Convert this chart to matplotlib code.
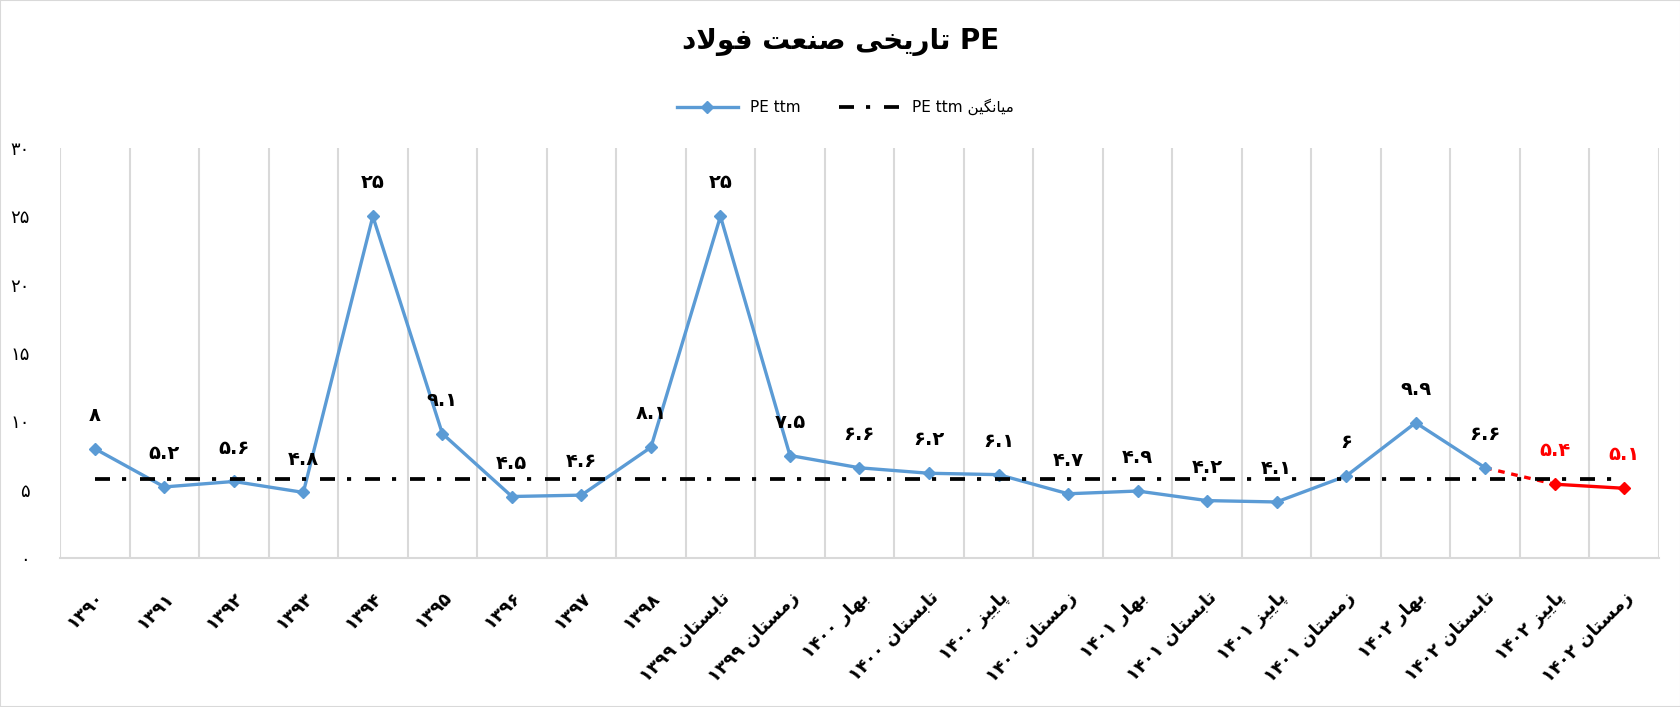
import re
import matplotlib
matplotlib.use("Agg")
import matplotlib.pyplot as plt
from matplotlib.lines import Line2D
from matplotlib.patches import Rectangle

# ---- data -------------------------------------------------------------
categories = [
    "۱۳۹۰", "۱۳۹۱", "۱۳۹۲", "۱۳۹۳", "۱۳۹۴", "۱۳۹۵", "۱۳۹۶", "۱۳۹۷", "۱۳۹۸",
    "تابستان ۱۳۹۹", "زمستان ۱۳۹۹", "بهار ۱۴۰۰", "تابستان ۱۴۰۰", "پاییز ۱۴۰۰",
    "زمستان ۱۴۰۰", "بهار ۱۴۰۱", "تابستان ۱۴۰۱", "پاییز ۱۴۰۱", "زمستان ۱۴۰۱",
    "بهار ۱۴۰۲", "تابستان ۱۴۰۲", "پاییز ۱۴۰۲", "زمستان ۱۴۰۲",
]
pe_ttm = [8, 5.2, 5.6, 4.8, 25, 9.1, 4.5, 4.6, 8.1, 25, 7.5, 6.6, 6.2, 6.1,
          4.7, 4.9, 4.2, 4.1, 6, 9.9, 6.6, 5.4, 5.1]
pe_avg = [5.8] * len(categories)
forecast_from = 21          # first estimated (red) point
y_ticks = [0, 5, 10, 15, 20, 25, 30]

title = "PE تاریخی صنعت فولاد"
legend_pe = "PE ttm"
legend_avg = "میانگین PE ttm"

# ---- minimal persian shaping / visual ordering -------------------------
FORMS = {  # isolated, final, initial, medial
    "ا": ("\uFE8D", "\uFE8E", None, None),
    "ب": ("\uFE8F", "\uFE90", "\uFE91", "\uFE92"),
    "پ": ("\uFB56", "\uFB57", "\uFB58", "\uFB59"),
    "ت": ("\uFE95", "\uFE96", "\uFE97", "\uFE98"),
    "خ": ("\uFEA5", "\uFEA6", "\uFEA7", "\uFEA8"),
    "د": ("\uFEA9", "\uFEAA", None, None),
    "ر": ("\uFEAD", "\uFEAE", None, None),
    "ز": ("\uFEAF", "\uFEB0", None, None),
    "س": ("\uFEB1", "\uFEB2", "\uFEB3", "\uFEB4"),
    "ص": ("\uFEB9", "\uFEBA", "\uFEBB", "\uFEBC"),
    "ع": ("\uFEC9", "\uFECA", "\uFECB", "\uFECC"),
    "ف": ("\uFED1", "\uFED2", "\uFED3", "\uFED4"),
    "گ": ("\uFB92", "\uFB93", "\uFB94", "\uFB95"),
    "ل": ("\uFEDD", "\uFEDE", "\uFEDF", "\uFEE0"),
    "م": ("\uFEE1", "\uFEE2", "\uFEE3", "\uFEE4"),
    "ن": ("\uFEE5", "\uFEE6", "\uFEE7", "\uFEE8"),
    "ه": ("\uFEE9", "\uFEEA", "\uFEEB", "\uFEEC"),
    "و": ("\uFEED", "\uFEEE", None, None),
    "ی": ("\uFBFC", "\uFBFD", "\uFBFE", "\uFBFF"),
}


def dual(c):
    return c in FORMS and FORMS[c][2] is not None


def shape(s):
    out = []
    i = 0
    while i < len(s):
        c = s[i]
        if c not in FORMS:
            out.append(c)
            i += 1
            continue
        join_prev = i > 0 and dual(s[i - 1])
        if c == "ل" and i + 1 < len(s) and s[i + 1] == "ا":
            out.append("\uFEFC" if join_prev else "\uFEFB")
            i += 2
            continue
        join_next = dual(c) and i + 1 < len(s) and s[i + 1] in FORMS
        iso, fin, ini, med = FORMS[c]
        if join_prev and join_next:
            out.append(med)
        elif join_prev:
            out.append(fin)
        elif join_next:
            out.append(ini)
        else:
            out.append(iso)
        i += 1
    return "".join(out)


LTR = r"[A-Za-z0-9\u06F0-\u06F9.]"


def fa(s):
    shaped = shape(s)
    tokens = re.findall(LTR + r"+(?: +" + LTR + r"+)*|[^A-Za-z0-9\u06F0-\u06F9.]+", shaped)
    return "".join(t if re.match(LTR, t) else t[::-1] for t in reversed(tokens))


def fa_num(v):
    return f"{v:g}".translate(str.maketrans("0123456789", "۰۱۲۳۴۵۶۷۸۹"))


# ---- plot -------------------------------------------------------------
plt.rcParams["font.family"] = ["DejaVu Sans"]
blue = "#5B9BD5"
red = "#FF0000"
grid = "#D9D9D9"

fig = plt.figure(figsize=(16.81, 7.07), dpi=100)
ax = fig.add_axes([60 / 1681, 1 - 558 / 707, 1599 / 1681, 410 / 707])

x = list(range(len(categories)))
ax.plot(x[:forecast_from], pe_ttm[:forecast_from], color=blue, lw=2.4,
        marker="D", ms=6.5, zorder=3)
ax.plot(x[forecast_from - 1:forecast_from + 1], pe_ttm[forecast_from - 1:forecast_from + 1],
        color=red, lw=2.4, ls=(0, (2, 2)), zorder=2)
ax.plot(x[forecast_from:], pe_ttm[forecast_from:], color=red, lw=2.4,
        marker="D", ms=6.5, zorder=3)
ax.plot(x, pe_avg, color="black", lw=2.7, dashes=(4, 3.2, 1.1, 3.7),
        dash_capstyle="butt", zorder=4)

for i, v in enumerate(pe_ttm):
    ax.annotate(fa_num(v), (i, v), xytext=(0, 24), textcoords="offset points",
                ha="center", va="center", fontsize=14, fontweight="bold",
                color=red if i >= forecast_from else "black", zorder=5)

ax.set_xlim(-0.5, len(categories) - 0.5)
ax.set_ylim(0, 30)
ax.set_xticks(x)
ax.set_xticklabels([fa(c) for c in categories], rotation=45, ha="right",
                   rotation_mode="anchor", fontsize=13, fontweight="bold")
ax.set_xticks([i - 0.5 for i in range(len(categories) + 1)], minor=True)
ax.grid(True, which="minor", axis="x", color=grid, lw=1.5)
ax.set_yticks(y_ticks)
ax.set_yticklabels([fa_num(t) for t in y_ticks], fontsize=13)
ax.tick_params(axis="both", which="both", length=0)
ax.tick_params(axis="y", pad=22)
ax.tick_params(axis="x", pad=22)
for side in ["top", "right", "left"]:
    ax.spines[side].set_visible(False)
ax.spines["bottom"].set_color(grid)
ax.spines["bottom"].set_linewidth(1.5)

fig.text(0.5, 1 - 42 / 707, fa(title), ha="center", va="center",
         fontsize=20, fontweight="bold")

handles = [
    Line2D([], [], color=blue, lw=2.4, marker="D", ms=6.5),
    Line2D([], [], color="black", lw=2.7, dashes=(4, 3.2, 1.1, 3.7)),
]
fig.legend(handles, [fa(legend_pe), fa(legend_avg)], loc="center",
           bbox_to_anchor=(0.503, 1 - 107 / 707), ncol=2, frameon=False,
           fontsize=11, handlelength=4, columnspacing=2.5)

fig.add_artist(Rectangle((0, 0), 1, 1, transform=fig.transFigure, fill=False,
                         edgecolor=grid, lw=1.5))

fig.savefig("out.png", dpi=100)
